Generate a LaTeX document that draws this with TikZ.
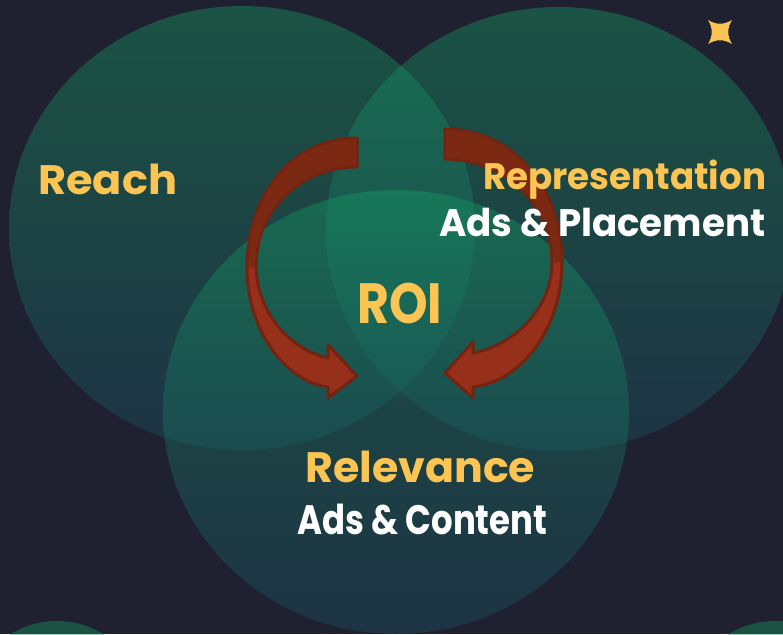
\documentclass[tikz,border=0pt]{standalone}
\usepackage{fontspec}
\setmainfont{Poppins}
\usepackage{graphicx}
\definecolor{slidebg}{RGB}{32,33,48}
\definecolor{disctop}{RGB}{20,160,98}
\definecolor{discbot}{RGB}{27,80,100}
\definecolor{gold}{RGB}{252,196,83}
\definecolor{arrowlit}{RGB}{151,48,26}
\definecolor{arrowdim}{RGB}{124,41,20}
\definecolor{arrowedge}{RGB}{114,36,16}
% scale a label to a given width and cap height
\newcommand{\fitbox}[3]{\resizebox{#1pt}{#2pt}{\raisebox{0pt}[\fontcharht\font`H][0pt]{#3}}}
\tikzset{
  disc/.style={top color=disctop, bottom color=discbot, fill opacity=0.4, draw=none},
  heading/.style={text=gold, font=\bfseries, inner sep=0pt, anchor=base west},
  subline/.style={text=white, font=\bfseries, inner sep=0pt, anchor=base west},
  bentarrow/.style={fill=arrowlit, draw=arrowedge, line width=3pt, line join=round},
}
\begin{document}
\begin{tikzpicture}[x=1pt,y=-1pt]
  % canvas
  \useasboundingbox (0,0) rectangle (783,634);
  \fill[slidebg] (0,0) rectangle (783,634);
  \clip (0,0) rectangle (783,634);

  % translucent discs
  \shade[disc] (242,228) ellipse [x radius=233, y radius=222];
  \shade[disc] (559,229) ellipse [x radius=233, y radius=222];
  \shade[disc] (396,412) ellipse [x radius=233, y radius=222];
  \shade[disc] (57,709) circle [radius=88];
  \shade[disc] (775,709) circle [radius=88];

  % left curved arrow
  \path[bentarrow] (357,138) .. controls (292,138) and (247,195) .. (247,268)
    .. controls (247,335) and (290,383) .. (328,387)
    -- (328,398) -- (357,376) -- (328,345) -- (328,358)
    .. controls (292,350) and (257,315) .. (256,266)
    .. controls (256,210) and (300,167) .. (357,167) -- cycle;
  \fill[arrowdim] (356,139.5) .. controls (292,139.5) and (248.5,195) .. (248.5,268)
    -- (255,266) .. controls (255,210) and (300,165.5) .. (355.5,165.5) -- cycle;

  % right curved arrow
  \path[bentarrow] (445,129) .. controls (515,129) and (562,190) .. (562,262)
    .. controls (562,330) and (520,382) .. (473,387)
    -- (473,398) -- (445,373) -- (473,342) -- (473,353)
    .. controls (512,346) and (552,310) .. (552,262)
    .. controls (552,205) and (505,159) .. (445,159) -- cycle;
  \fill[arrowdim] (446.5,130.5) .. controls (515,130.5) and (560.5,190) .. (560.5,262)
    -- (553.5,262) .. controls (553.5,205) and (505,157.5) .. (446.5,157.5) -- cycle;

  % four-point star
  \fill[gold] (708,20) .. controls (716,25) and (724,25) .. (732,20)
    .. controls (727,28) and (727,36) .. (732,44)
    .. controls (724,39) and (716,39) .. (708,44)
    .. controls (713,36) and (713,28) .. (708,20) -- cycle;

  % labels
  \node[heading] (reach) at (38,194) {\fitbox{139}{29}{Reach}};
  \node[heading] (repr) at (483,189) {\fitbox{283}{26}{Representation}};
  \node[subline] (place) at (439,236) {\fitbox{326}{27}{Ads \& Placement}};
  \node[heading] (roi) at (357,323) {\fitbox{85}{40}{ROI}};
  \node[heading] (relev) at (305,482) {\fitbox{230}{30}{Relevance}};
  \node[subline] (content) at (297,534) {\fitbox{250}{29}{Ads \& Content}};
\end{tikzpicture}
\end{document}
